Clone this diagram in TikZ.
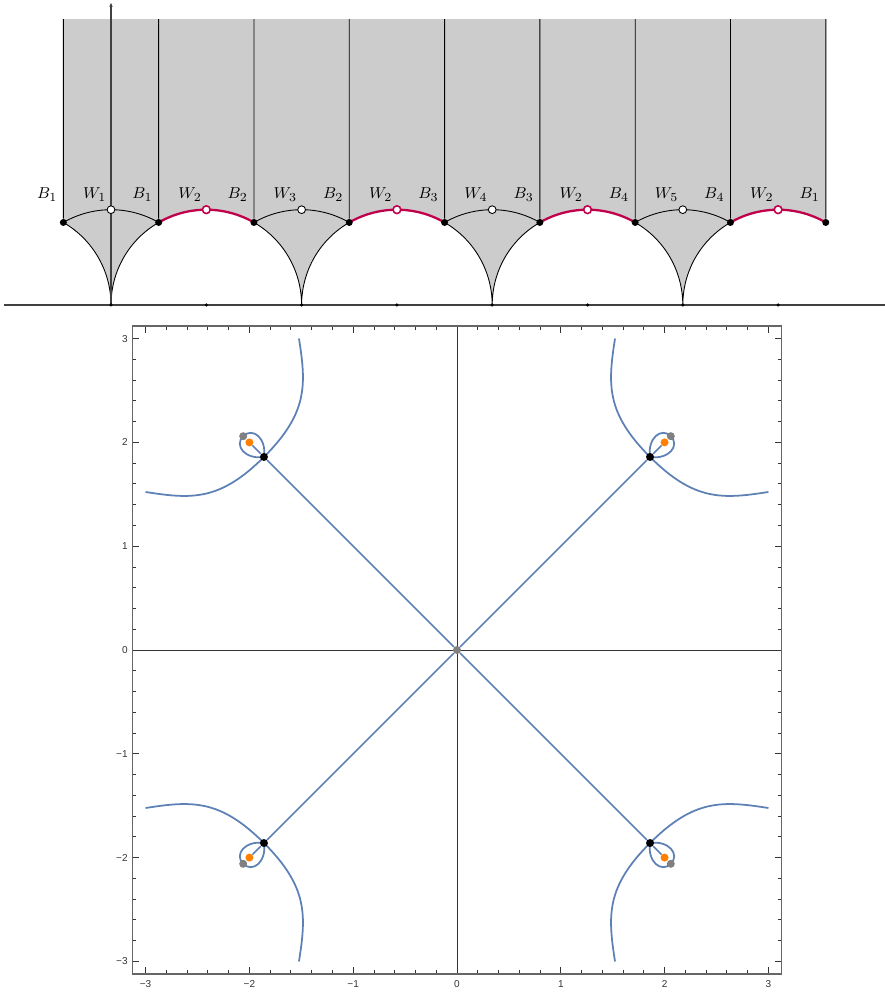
\documentclass[tikz,border=0pt]{standalone}
\usepackage{fontspec}
\usepackage{tikz}
\newfontfamily\tickfont{Liberation Sans}
\definecolor{regiongray}{HTML}{CCCCCC}
\definecolor{arcred}{HTML}{C0004A}
\definecolor{stokesblue}{HTML}{5E81B5}
\definecolor{turnorange}{HTML}{FF8000}
\definecolor{polegray}{HTML}{808080}
\definecolor{framegray}{HTML}{666666}
\usetikzlibrary{arrows.meta}

\begin{document}
\begin{tikzpicture}[
    lab/.style = {anchor=base east, inner sep=0pt, font=\fontsize{9.5}{11}\selectfont},
    bdot/.style = {circle, fill=black, inner sep=0pt, minimum size=1.4mm},
    wdot/.style = {circle, draw=black, fill=white, inner sep=0pt,
                   minimum size=1.55mm, line width=0.5pt},
    rdot/.style = {wdot, draw=arcred, line width=0.9pt},
    cuspdot/.style = {circle, fill=black, inner sep=0pt, minimum size=0.7mm},
    thinline/.style = {line width=0.5pt},
    redarc/.style = {arcred, line width=1.3pt},
    axisline/.style = {black!75, line width=0.6pt},
    stokes/.style = {stokesblue, line width=1pt},
    crit/.style = {circle, inner sep=0pt, minimum size=1.6mm},
    tickmark/.style = {black!80, line width=0.5pt},
    ticklab/.style = {inner sep=0pt, text=black!80,
                      font=\tickfont\fontsize{5.7}{6}\selectfont},
  ]
  \useasboundingbox (0,0) rectangle (17.7,19.88);

  %% Upper half-plane
  \begin{scope}[shift={(2.22,13.78)}, scale=1.906]
    \fill[regiongray] (-0.5,3) -- (-0.5,0.866)
      arc[start angle=60, end angle=0, radius=1]
      arc[start angle=180, end angle=0, radius=1]
      arc[start angle=180, end angle=0, radius=1]
      arc[start angle=180, end angle=0, radius=1]
      arc[start angle=180, end angle=60, radius=1] -- (7.5,3) -- cycle;

    %% Arcs
    \foreach \c in {0,2,4,6} {
      \draw[thinline] (\c-0.5,0.866) arc[start angle=60, end angle=0, radius=1]
                      arc[start angle=180, end angle=120, radius=1];
      \draw[thinline] (\c-0.5,0.866) arc[start angle=120, end angle=60, radius=1];
    }
    \foreach \c in {1,3,5,7}
      \draw[redarc] (\c-0.5,0.866) arc[start angle=120, end angle=60, radius=1];

    %% Axes
    \coordinate (hl) at (-1.12,0);
    \coordinate (hr) at (8.12,0);
    \coordinate (vb) at (0,0);
    \coordinate (vt) at (0,3.18);
    \draw[axisline] (hl) -- (hr);
    \draw[axisline, -{Latex[length=1mm, width=0.7mm]}] (vb) -- (vt);

    \foreach \c in {0,...,7}
      \node[cuspdot] (z\c) at (\c,0) {};

    %% Black vertices
    \foreach \x/\n [count=\i] in {-0.5/1, 0.5/1, 1.5/2, 2.5/2, 3.5/3, 4.5/3, 5.5/4, 6.5/4, 7.5/1} {
      \node[bdot] (b\i) at (\x,0.866) {};
      \coordinate (t\i) at (\x,3);
      \draw[thinline] (b\i) -- (t\i);
      \node[lab] (lb\i) at (\x-0.06,1.115) {$B_{\n}$};
    }

    %% White vertices
    \foreach \x/\n/\s in {0/1/wdot, 1/2/rdot, 2/3/wdot, 3/2/rdot, 4/4/wdot, 5/2/rdot, 6/5/wdot, 7/2/rdot} {
      \node[\s] (w\x) at (\x,1) {};
      \node[lab] (lw\x) at (\x-0.045,1.115) {$W_{\n}$};
    }
  \end{scope}

  %% Stokes graph
  \begin{scope}[shift={(9.14,6.88)}, scale=2.076]
    \coordinate (fsw) at (-3.125,-3.12);
    \coordinate (fne) at (3.125,3.12);
    \coordinate (axl) at (-3.125,0);
    \coordinate (axr) at (3.125,0);
    \coordinate (axb) at (0,-3.12);
    \coordinate (axt) at (0,3.12);
    \draw[black!80, line width=0.5pt] (axl) -- (axr);
    \draw[black!80, line width=0.5pt] (axb) -- (axt);

    %% Ticks
    \foreach \v in {-3,...,3} {
      \draw[tickmark] (\v,-3.12) -- ++(0,0.065);
      \draw[tickmark] (\v,3.12) -- ++(0,-0.065);
      \draw[tickmark] (-3.125,\v) -- ++(0.065,0);
      \draw[tickmark] (3.125,\v) -- ++(-0.065,0);
    }
    \foreach \j in {-15,...,15} {
      \draw[tickmark] (\j/5,-3.12) -- ++(0,0.033);
      \draw[tickmark] (\j/5,3.12) -- ++(0,-0.033);
      \draw[tickmark] (-3.125,\j/5) -- ++(0.033,0);
      \draw[tickmark] (3.125,\j/5) -- ++(-0.033,0);
    }
    \foreach \v/\t [count=\i] in {-3/−3, -2/−2, -1/−1, 0/0, 1/1, 2/2, 3/3} {
      \node[ticklab, anchor=north] (xt\i) at (\v,-3.185) {\t};
      \node[ticklab, anchor=east] (yt\i) at (-3.17,\v) {\t};
    }
    \draw[framegray, line width=0.9pt] (fsw) rectangle (fne);

    %% Curves and critical points
    \node[crit, fill=polegray] (o) at (0,0) {};
    \foreach \a [count=\q] in {45,135,225,315} {
      \begin{scope}[rotate=\a]
        \draw[stokes] (3.198,-1.045) .. controls (2.834,-0.78) and (2.63,-0.6) .. (2.63,0)
                      .. controls (2.63,0.6) and (2.834,0.78) .. (3.198,1.045);
        \draw[stokes] (2.63,0) .. controls (2.736,-0.146) and (2.913,-0.13) .. (2.913,0)
                      .. controls (2.913,0.13) and (2.736,0.146) .. (2.63,0);
        \node[crit, fill=polegray] (g\q) at (2.913,0) {};
        \node[crit, fill=turnorange] (r\q) at (2.828,0) {};
        \node[crit, fill=black] (k\q) at (2.63,0) {};
        \draw[stokes] (o) -- (k\q);
        \draw[stokes] (k\q) -- (r\q);
      \end{scope}
    }
  \end{scope}
\end{tikzpicture}
\end{document}
